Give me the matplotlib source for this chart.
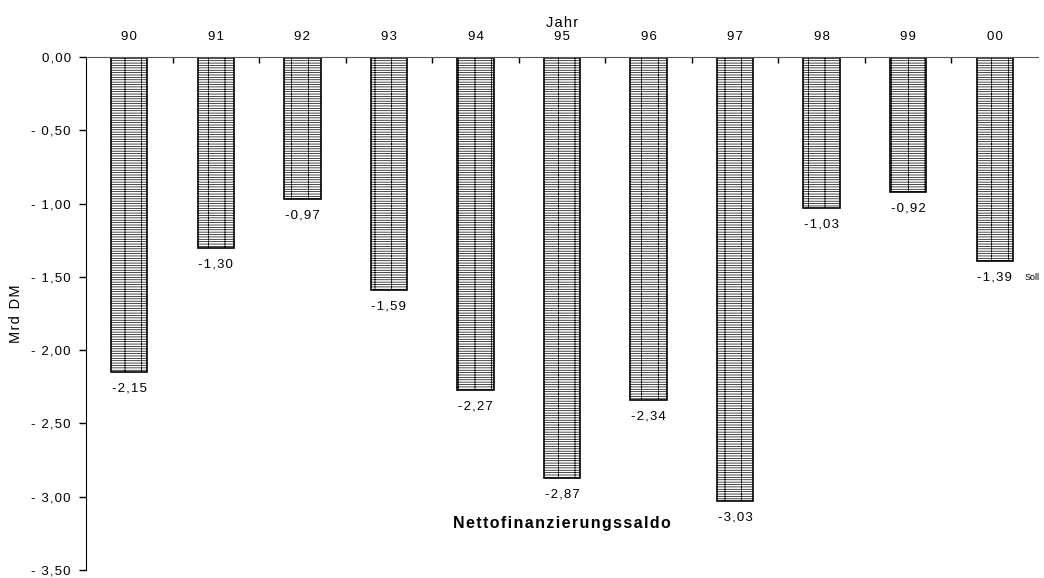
import matplotlib.pyplot as plt
import numpy as np

plt.rcParams['font.family'] = ['Liberation Sans', 'DejaVu Sans']
plt.rcParams['hatch.linewidth'] = 0.5

# data
years = ["90", "91", "92", "93", "94", "95", "96", "97", "98", "99", "00"]
saldo = [-2.15, -1.30, -0.97, -1.59, -2.27, -2.87, -2.34, -3.03, -1.03, -0.92, -1.39]
labels = ["-2,15", "-1,30", "-0,97", "-1,59", "-2,27", "-2,87", "-2,34", "-3,03", "-1,03", "-0,92", "-1,39"]
yticks = [0.0, -0.5, -1.0, -1.5, -2.0, -2.5, -3.0, -3.5]


def spaced(s):
    # wide letter spacing like the original
    return '\u200a'.join(s)


fig = plt.figure(figsize=(10.44, 5.78), dpi=100)
ax = fig.add_axes([86 / 1044, 1 - 570 / 578, (1038 - 86) / 1044, (570 - 57) / 578])

x = np.arange(len(years))
ax.bar(x, saldo, width=0.42, color='white', edgecolor='black', linewidth=1.2,
       hatch='-------|', zorder=2)

for xi, v, lab in zip(x, saldo, labels):
    ax.annotate(spaced(lab), (xi, v), xytext=(0, -12), textcoords='offset points',
                ha='center', va='center', fontsize=9.5)
ax.annotate("Soll", (x[-1], saldo[-1]), xytext=(27, -12), textcoords='offset points',
            ha='center', va='center', fontsize=6.5)

ax.text(5, -3.18, spaced("Nettofinanzierungssaldo"), ha='center', va='center',
        fontsize=11.5, fontweight='bold')

ax.set_xlim(-0.5, len(years) - 0.5)
ax.set_ylim(-3.5, 0)

# x axis on top, ticks between categories
ax.xaxis.tick_top()
ax.xaxis.set_label_position('top')
ax.set_xticks(x)
ax.set_xticklabels([spaced(y) for y in years], fontsize=9.5)
ax.set_xticks(x[:-1] + 0.5, minor=True)
ax.tick_params(axis='x', which='major', length=0, pad=10)
ax.tick_params(axis='x', which='minor', direction='in', length=4, width=1)
ax.set_xlabel(spaced("Jahr"), fontsize=10.5, labelpad=3)

ylabs = []
for t in yticks:
    s = f"{abs(t):.2f}".replace('.', ',')
    ylabs.append(spaced(("- " if t < 0 else "") + s))
ax.set_yticks(yticks)
ax.set_yticklabels(ylabs, fontsize=9.5)
ax.tick_params(axis='y', direction='out', length=5, width=1, pad=6)
ax.set_ylabel(spaced("Mrd DM"), fontsize=10.5, labelpad=6)

ax.spines['right'].set_visible(False)
ax.spines['bottom'].set_visible(False)
ax.spines['top'].set_color('#555555')

fig.savefig("out.png", dpi=100)
